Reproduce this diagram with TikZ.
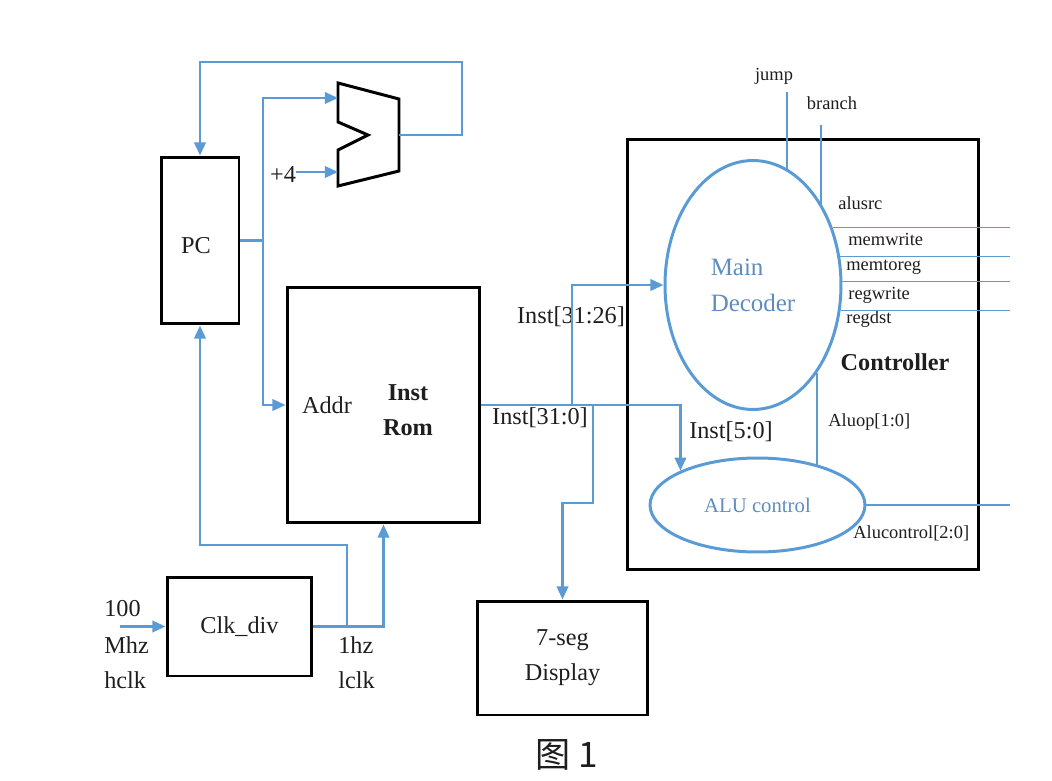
\documentclass[tikz,border=0pt]{standalone}
\usepackage{fontspec}
\setmainfont{Liberation Serif}
\newfontfamily\cjk{Noto Sans CJK SC}
\usetikzlibrary{positioning,arrows.meta,shapes.geometric}
\definecolor{wireblue}{RGB}{91,155,213}
\definecolor{unittext}{RGB}{95,140,190}
\definecolor{ink}{RGB}{30,30,30}
\tikzstyle{blk} = [
rectangle,
draw=black,
line width=1.7pt,
inner sep=0pt,
text=ink,
font=\fontsize{13.8}{19.8}\selectfont,
align=center
]
\tikzstyle{unit} = [
ellipse,
draw=wireblue,
line width=1.7pt,
inner sep=0pt,
text=unittext
]
\tikzstyle{wire} = [
draw=wireblue,
line width=1.5pt
]
\tikzstyle{sig} = [
draw=wireblue,
line width=0.7pt
]
\tikzstyle{lbl} = [
text=ink,
inner sep=0pt,
font=\fontsize{13.8}{16}\selectfont
]
\tikzstyle{tiny} = [
text=ink,
inner sep=0pt,
font=\fontsize{10.5}{12}\selectfont
]

\begin{document}
\begin{tikzpicture}[
	x=0.02cm,
	y=-0.02cm,
	>={Triangle[length=7.5pt,width=6.5pt]},
	line join=miter
	]
	\useasboundingbox (0,0) rectangle (1052,781);
	
	% blocks
	\node[blk,minimum width=1.56cm,minimum height=3.34cm] (pc) at (200,240.5) {};
	\node[blk,minimum width=3.86cm,minimum height=4.72cm] (rom) at (383.5,405) {};
	\node[blk,minimum width=2.9cm,minimum height=1.98cm] (clkdiv) at (239.5,626.5) {Clk\_div};
	\node[blk,minimum width=3.42cm,minimum height=2.28cm] (seg) at (562.5,658) {7-seg\\Display};
	\node[blk,minimum width=7.04cm,minimum height=8.62cm] (ctrl) at (803,354.5) {};
	\node[unit,minimum width=3.52cm,minimum height=4.98cm,align=left,
		font=\fontsize{14.2}{20.4}\selectfont] (dec) at (753,285) {Main\\Decoder};
	\node[unit,minimum width=4.3cm,minimum height=1.88cm,
		font=\fontsize{11.8}{14}\selectfont] (aluctl) at (757.5,505) {ALU control};
	
	% adder
	\draw[line width=1.7pt] (338,83) -- (399,99) -- (399,171) -- (338,186) -- (338,150) -- (368,135) -- (338,122) -- cycle;
	\coordinate (addin1) at (338,98);
	\coordinate (addin2) at (338,172);
	\coordinate (addout) at (399,135);
	
	% labels
	\node[lbl] (pcname) at (196,246) {PC};
	\node[lbl] (four) at (283,175) {+4};
	\node[lbl] (addr) at (327,405) {Addr};
	\node[lbl,align=center,font=\fontsize{13.8}{19.8}\selectfont\bfseries] (romname) at (408,410.5) {Inst\\Rom};
	\node[lbl] (inst26) at (571,317) {Inst[31:26]};
	\node[lbl] (inst0) at (540,418) {Inst[31:0]};
	\node[lbl] (inst5) at (731,432) {Inst[5:0]};
	\node[lbl,font=\fontsize{13.8}{16}\selectfont\bfseries] (ctrlname) at (895,362) {Controller};
	\node[lbl,anchor=west] (hundred) at (104,609) {100};
	\node[lbl,anchor=west] (mhz) at (104,645) {Mhz};
	\node[lbl,anchor=west] (hclk) at (104,680) {hclk};
	\node[lbl,anchor=west] (onehz) at (338,645) {1hz};
	\node[lbl,anchor=west] (lclk) at (338,680) {lclk};
	\node[tiny] (jump) at (774,76) {jump};
	\node[tiny] (branch) at (832,103) {branch};
	\node[tiny,anchor=west] (alusrc) at (838,203) {alusrc};
	\node[tiny,anchor=west] (memwrite) at (848,239) {memwrite};
	\node[tiny,anchor=west] (memtoreg) at (846,267) {memtoreg};
	\node[tiny,anchor=west] (regwrite) at (848,295) {regwrite};
	\node[tiny,anchor=west] (regdst) at (846,319) {regdst};
	\node[tiny,anchor=west] (aluop) at (828,422) {Aluop[1:0]};
	\node[tiny,anchor=west] (aluout) at (853,533) {Alucontrol[2:0]};
	\node[text=ink,font=\cjk\fontsize{20}{24}\selectfont] (caption) at (567,755) {图 1};
	
	% pc loop
	\coordinate (pcsplit) at (263,240.5);
	\coordinate (fbtop) at (462,62);
	\draw[wire] (pc.east) -- (pcsplit);
	\draw[wire,->] (pcsplit) |- (addin1);
	\draw[wire,->] (pcsplit) |- (rom.west);
	\draw[wire,->] (four.east |- addin2) -- (addin2);
	\draw[wire,->] (addout) -| (fbtop) -| (pc.north);
	
	% clocks
	\coordinate (hclkin) at (120,626.5);
	\coordinate (clksplit) at (347,626.5);
	\coordinate (clkbend) at (347,545);
	\draw[wire,->] (hclkin) -- (clkdiv.west);
	\draw[wire,->] (clkdiv.east) -| (rom.south);
	\draw[wire,->] (clksplit) -- (clkbend) -| (pc.south);
	
	% instruction bus
	\coordinate (j26) at (572,405);
	\coordinate (jseg) at (593,405);
	\coordinate (segbend) at (593,503);
	\draw[wire,->] (rom.east) -| (aluctl.north west);
	\draw[wire,->] (j26) |- (dec.west);
	\draw[wire,->] (jseg) -- (segbend) -| (seg.north);
	
	% control signals
	\coordinate (jumptop) at (787,92);
	\coordinate (branchtop) at (821,125);
	\coordinate (rightbus) at (1010,0);
	\draw[sig] (jumptop) -- (jumptop |- dec.73);
	\draw[sig] (branchtop) -- (branchtop |- dec.49);
	\draw[sig] (dec.36) -- (dec.36 -| rightbus);
	\draw[sig] (dec.18) -- (dec.18 -| rightbus);
	\draw[sig] (dec.2) -- (dec.2 -| rightbus);
	\draw[sig] (dec.344) -- (dec.344 -| rightbus);
	\draw[sig] (dec.306) -- (dec.306 |- aluctl.34);
	\draw[sig] (aluctl.east) -- (aluctl.east -| rightbus);
\end{tikzpicture}
\end{document}
